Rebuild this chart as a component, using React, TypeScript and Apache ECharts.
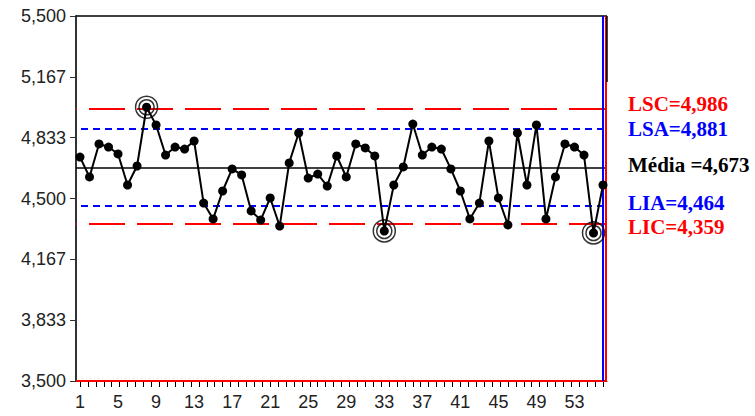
import React, { useEffect, useRef } from "react";
import * as echarts from "echarts";

const values = [
  4.727, 4.618, 4.799, 4.782, 4.744, 4.574, 4.678, 5.0, 4.903, 4.738,
  4.782, 4.771, 4.815, 4.475, 4.388, 4.541, 4.662, 4.629, 4.432, 4.382,
  4.503, 4.349, 4.695, 4.859, 4.612, 4.634, 4.568, 4.733, 4.618, 4.799,
  4.777, 4.733, 4.322, 4.574, 4.673, 4.908, 4.738, 4.782, 4.771, 4.662,
  4.541, 4.388, 4.475, 4.815, 4.503, 4.355, 4.859, 4.574, 4.903, 4.388,
  4.618, 4.799, 4.782, 4.738, 4.311, 4.574,
];
const outOfControl = [8, 33, 55];
const LSC = 4.986;
const LSA = 4.881;
const MEAN = 4.673;
const LIA = 4.464;
const LIC = 4.359;
const yTickValues = [3.5, 3.8333, 4.1667, 4.5, 4.8333, 5.1667, 5.5];
const xLabelValues = [1, 5, 9, 13, 17, 21, 25, 29, 33, 37, 41, 45, 49, 53];
const xTickValues = Array.from({ length: 67 }, (_, k) => 1 + (k * 55) / 66);
const limitTexts = [
  { text: "LSC=4,986", color: "#ff0000", y: 105 },
  { text: "LSA=4,881", color: "#0000ff", y: 130 },
  { text: "Média =4,673", color: "#000000", y: 166 },
  { text: "LIA=4,464", color: "#0000ff", y: 204 },
  { text: "LIC=4,359", color: "#ff0000", y: 228 },
];

const fmt = (v: number) => v.toFixed(3).replace(".", ",");

export default function App() {
  const ref = useRef<HTMLDivElement>(null);
  useEffect(() => {
    document.body.style.margin = "0";
    const chart = echarts.init(ref.current!, null, { renderer: "svg" });
    const pts = values.map((v, i) => [i + 1, v]);
    const circ = outOfControl.map((i) => [i, values[i - 1]]);
    const XMIN = 0.58;
    const XMAX = 56.42;
    chart.setOption({
      animation: false,
      grid: { left: 76, right: 148, top: 16, bottom: 35, show: false },
      xAxis: {
        type: "value",
        min: XMIN,
        max: XMAX,
        splitLine: { show: false },
        axisLine: { show: true, onZero: false, lineStyle: { color: "#000", width: 1 } },
        axisTick: { show: true, length: 6, customValues: xTickValues, lineStyle: { color: "#000", width: 1 } },
        axisLabel: {
          customValues: xLabelValues,
          color: "#222",
          fontFamily: "Liberation Sans",
          fontSize: 18,
          margin: 12,
        },
      },
      yAxis: {
        type: "value",
        min: 3.5,
        max: 5.5,
        splitLine: { show: false },
        axisLine: { show: true, onZero: false, lineStyle: { color: "#333", width: 2 } },
        axisTick: { show: true, length: 6, customValues: yTickValues, lineStyle: { color: "#333", width: 1 } },
        axisLabel: {
          customValues: yTickValues,
          formatter: (v: number) => fmt(v),
          color: "#222",
          fontFamily: "Liberation Sans",
          fontSize: 18,
          margin: 10,
        },
      },
      graphic: limitTexts.map((t) => ({
        type: "text",
        left: 628,
        top: t.y - 12,
        style: {
          text: t.text,
          fill: t.color,
          font: "bold 21px 'Liberation Serif'",
        },
      })),
      series: [
        {
          type: "line",
          data: pts,
          symbol: "circle",
          symbolSize: 9,
          itemStyle: { color: "#000" },
          lineStyle: { color: "#000", width: 2 },
          z: 5,
          markLine: {
            silent: true,
            symbol: "none",
            label: { show: false },
            data: [
              { yAxis: LSC, lineStyle: { color: "#ff0000", width: 2, type: [36, 12], dashOffset: 35 } },
              { yAxis: LIC, lineStyle: { color: "#ff0000", width: 2, type: [36, 12], dashOffset: 35 } },
              { yAxis: LSA, lineStyle: { color: "#0000ff", width: 2, type: [7, 5], dashOffset: 7 } },
              { yAxis: LIA, lineStyle: { color: "#0000ff", width: 2, type: [7, 5], dashOffset: 7 } },
              { yAxis: MEAN, lineStyle: { color: "#000", width: 1.5, type: "solid" } },
              { yAxis: 5.5, lineStyle: { color: "#000", width: 1.5, type: "solid" } },
              { yAxis: 3.505, lineStyle: { color: "#ff0000", width: 2, type: "solid" } },
              { xAxis: 56, lineStyle: { color: "#0000ff", width: 2, type: "solid" } },
              { xAxis: 56.3, lineStyle: { color: "#ff0000", width: 2, type: "solid" } },
              [
                { coord: [XMAX, 5.5], lineStyle: { color: "#000", width: 1.5, type: "solid" } },
                { coord: [XMAX, 5.138] },
              ],
            ],
          },
        },
        {
          type: "scatter",
          data: circ,
          symbol: "circle",
          symbolSize: 22,
          itemStyle: { color: "transparent", borderColor: "#000", borderWidth: 1.5 },
          z: 6,
        },
        {
          type: "scatter",
          data: circ,
          symbol: "circle",
          symbolSize: 15,
          itemStyle: { color: "transparent", borderColor: "#000", borderWidth: 1.5 },
          z: 6,
        },
      ],
    });
    return () => chart.dispose();
  }, []);
  return <div ref={ref} style={{ width: 755, height: 416 }} />;
}
